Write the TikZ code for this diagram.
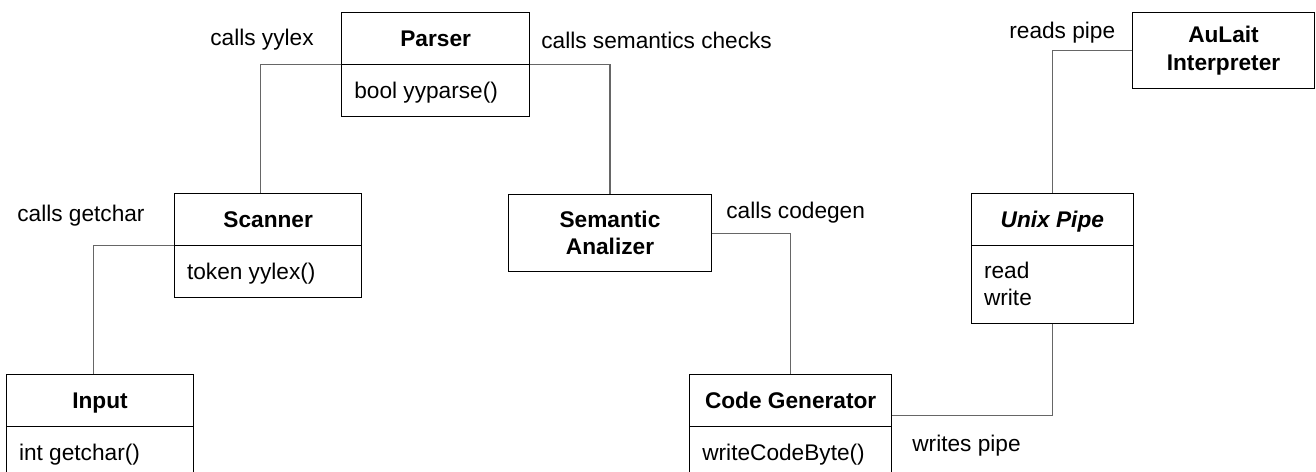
\documentclass[tikz,border=0pt]{standalone}
\usepackage{fontspec}
\setmainfont{Liberation Sans}
\usetikzlibrary{
  positioning,
  shapes.multipart
}
\newcommand{\partstrut}{\rule[-9.8pt]{0pt}{29pt}}

\begin{document}
\begin{tikzpicture}[
  x=0.02cm, y=-0.02cm,
  every node/.style={font=\fontsize{12.9}{15.6}\selectfont},
  umlclass/.style={
    rectangle split, rectangle split parts=2,
    rectangle split part align={center,left},
    draw=black, line width=0.6pt,
    inner xsep=0.25cm, inner ysep=0pt,
    anchor=north west
  },
  plainclass/.style={
    rectangle, draw=black, line width=0.6pt,
    align=center, font=\fontsize{12.9}{15.6}\selectfont\bfseries,
    minimum height=1.534cm, anchor=north west
  },
  link/.style={
    draw=black!60, line width=0.7pt
  },
  lbl/.style={
    inner sep=0pt, anchor=west
  }
]
  \useasboundingbox (0,0) rectangle (1316,471);

  % Classes
  \node[umlclass, minimum width=3.754cm] (parser) at (341.3,11.7)
    {{\bfseries Parser}\partstrut \nodepart{two} bool yyparse()\partstrut};
  \node[umlclass, minimum width=3.746cm] (scanner) at (174,192.7)
    {{\bfseries Scanner}\partstrut \nodepart{two} token yylex()\partstrut};
  \node[umlclass, minimum width=3.74cm] (input) at (6,373.7)
    {{\bfseries Input}\partstrut \nodepart{two} int getchar()\partstrut};
  \node[plainclass, minimum width=4.048cm] (semantic) at (508.3,194.3)
    {Semantic\\Analizer};
  \node[umlclass, minimum width=4.034cm] (codegen) at (689.3,373.7)
    {{\bfseries Code Generator}\partstrut \nodepart{two} writeCodeByte()\partstrut};
  \node[umlclass, minimum width=3.234cm] (pipe) at (971,192.7)
    {{\bfseries\itshape Unix Pipe}\partstrut \nodepart{two}
     \begin{tabular}[t]{@{}l@{}}\rule{0pt}{18.8pt}read\\[-0.5pt]
       write\rule[-10.1pt]{0pt}{0pt}\end{tabular}};
  \node[plainclass, minimum width=3.628cm] (aulait) at (1132.3,11.7)
    {AuLait\\Interpreter};

  % Connectors
  \draw[link] (parser.text split west) -| ([xshift=-0.153cm]scanner.north);
  \draw[link] (parser.text split east) -| (semantic.north);
  \draw[link] (scanner.text split west) -| ([xshift=-0.124cm]input.north);
  \draw[link] (semantic.east) -| (codegen.north);
  \draw[link] ([yshift=0.22cm]codegen.text split east) -| (pipe.south);
  \draw[link] (pipe.north) |- (aulait.west);

  % Labels
  \node[lbl] (lblyylex) at (210,40) {calls yylex};
  \node[lbl] (lblsemantics) at (541,40) {calls semantics checks};
  \node[lbl] (lblgetchar) at (17,215.5) {calls getchar};
  \node[lbl] (lblcodegen) at (726,212.5) {calls codegen};
  \node[lbl] (lblreads) at (1009,32.3) {reads pipe};
  \node[lbl] (lblwrites) at (912,445.3) {writes pipe};
\end{tikzpicture}
\end{document}
